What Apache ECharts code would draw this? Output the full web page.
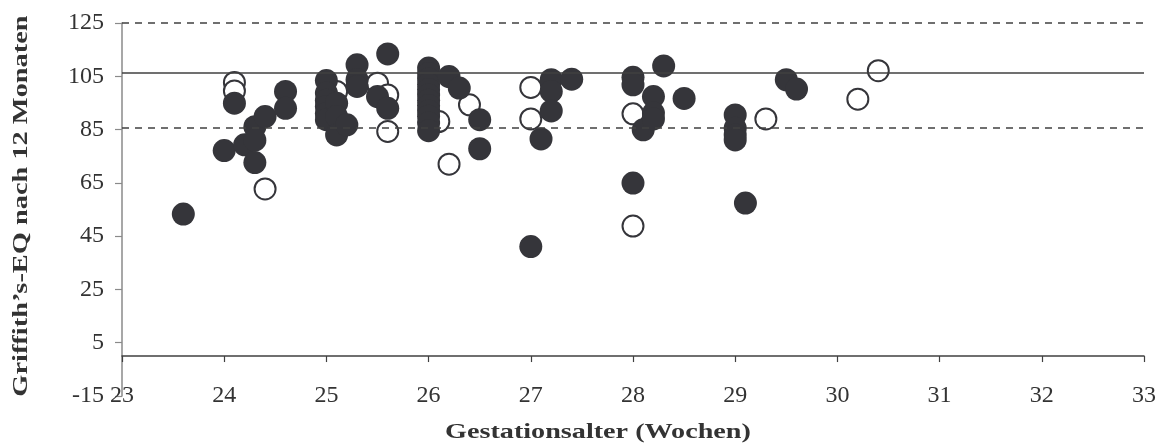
<!DOCTYPE html>
<html>
<head>
<meta charset="utf-8">
<script src="https://cdn.jsdelivr.net/npm/echarts@6/dist/echarts.min.js"></script>
<style>
html,body{margin:0;padding:0;background:#fff;}
#chart{width:1162px;height:445px;}
</style>
</head>
<body>
<div id="chart"></div>
<script>
// Filled circles: [Gestationsalter (Wochen), Griffith's-EQ]
const filledPoints = [
  [23.6, 53.3],
  [24.0, 77.1],
  [24.1, 94.9],
  [24.2, 79.3],
  [24.3, 86.1], [24.3, 81.0], [24.3, 72.6],
  [24.4, 89.9],
  [24.6, 99.3], [24.6, 93.0],
  [25.0, 103.4], [25.0, 98.7], [25.0, 96.0], [25.0, 93.7], [25.0, 91.0], [25.0, 88.7],
  [25.1, 94.9], [25.1, 89.9], [25.1, 83.0],
  [25.2, 86.8],
  [25.3, 109.3], [25.3, 103.7], [25.3, 101.2],
  [25.5, 97.4],
  [25.6, 113.4], [25.6, 93.0],
  [26.0, 108.1], [26.0, 106.0], [26.0, 104.0], [26.0, 102.0], [26.0, 100.0], [26.0, 98.0],
  [26.0, 96.0], [26.0, 94.0], [26.0, 92.0], [26.0, 90.0], [26.0, 87.5], [26.0, 84.6],
  [26.2, 104.9],
  [26.3, 100.6],
  [26.5, 88.7], [26.5, 77.8],
  [27.0, 41.1],
  [27.1, 81.5],
  [27.2, 103.7], [27.2, 99.3], [27.2, 92.0],
  [27.4, 103.9],
  [28.0, 104.6], [28.0, 101.8], [28.0, 64.9],
  [28.1, 84.9],
  [28.2, 97.4], [28.2, 91.2], [28.2, 89.0],
  [28.3, 108.9],
  [28.5, 96.7],
  [29.0, 90.5], [29.0, 85.5], [29.0, 83.0], [29.0, 81.1],
  [29.1, 57.4],
  [29.5, 103.7],
  [29.6, 100.2]
];
// Hollow circles
const hollowPoints = [
  [24.1, 102.7], [24.1, 99.5],
  [24.4, 62.7],
  [25.1, 99.3],
  [25.5, 102.4],
  [25.6, 98.0], [25.6, 84.3],
  [26.1, 88.0],
  [26.2, 72.0],
  [26.4, 94.3],
  [27.0, 100.8], [27.0, 89.0],
  [28.0, 90.9], [28.0, 48.8],
  [29.3, 89.0],
  [30.2, 96.4],
  [30.4, 107.1]
];
// Reference lines (mean solid, ±SD dashed)
const meanLine = [106.2];
const sdLines = [85.8, 125];
const xTicks = [23, 24, 25, 26, 27, 28, 29, 30, 31, 32, 33];
const yTicks = [-15, 5, 25, 45, 65, 85, 105, 125];
const xTitle = 'Gestationsalter (Wochen)';
const yTitle = 'Griffith\u2019s-EQ nach 12 Monaten';

const FONT = '"Liberation Serif", "Times New Roman", serif';
const DARK = '#35353a';

const chart = echarts.init(document.getElementById('chart'), null, {renderer: 'canvas'});
chart.setOption({
  animation: false,
  backgroundColor: '#ffffff',
  grid: {left: 122, right: 18, top: 23, bottom: 49, containLabel: false, outerBoundsMode: 'none'},
  xAxis: {
    type: 'value',
    min: xTicks[0], max: xTicks[xTicks.length - 1], interval: 1,
    axisLine: {onZero: true, lineStyle: {color: '#404040', width: 1.5}},
    axisTick: {show: true, length: 6, inside: false, lineStyle: {color: '#404040', width: 1.2}},
    axisLabel: {margin: -12, fontFamily: FONT, fontSize: 24, color: '#333'},
    splitLine: {show: false}
  },
  yAxis: {
    type: 'value',
    min: yTicks[0], max: yTicks[yTicks.length - 1], interval: 20,
    axisLine: {onZero: false, lineStyle: {color: '#8a8a8a', width: 1.5}},
    axisTick: {show: true, length: 7, inside: false, lineStyle: {color: '#8a8a8a', width: 1.2}},
    axisLabel: {margin: 18, fontFamily: FONT, fontSize: 24, color: '#333'},
    splitLine: {show: false}
  },
  graphic: [
    {
      type: 'text', x: 598, y: 432, scaleX: 1.28,
      style: {text: xTitle, font: 'bold 22px ' + FONT, fill: '#333', textAlign: 'center', textVerticalAlign: 'middle'}
    },
    {
      type: 'text', x: 21, y: 206, rotation: Math.PI / 2, scaleX: 1.29,
      style: {text: yTitle, font: 'bold 22px ' + FONT, fill: '#333', textAlign: 'center', textVerticalAlign: 'middle'}
    }
  ],
  series: [
    {
      type: 'scatter',
      name: 'reference',
      data: [],
      silent: true,
      markLine: {
        silent: true,
        symbol: 'none',
        label: {show: false},
        data: [
          {yAxis: meanLine[0], lineStyle: {type: 'solid', color: '#404040', width: 1.6}},
          {yAxis: sdLines[0], lineStyle: {type: [7, 6], color: '#404040', width: 1.6}},
          {yAxis: sdLines[1], lineStyle: {type: [7, 6], color: '#404040', width: 1.6}}
        ]
      }
    },
    {
      type: 'scatter',
      name: 'hollow',
      data: hollowPoints,
      symbol: 'circle',
      symbolSize: 21,
      itemStyle: {color: '#ffffff', borderColor: DARK, borderWidth: 2, opacity: 1}
    },
    {
      type: 'scatter',
      name: 'filled',
      data: filledPoints,
      symbol: 'circle',
      symbolSize: 23,
      itemStyle: {color: DARK, opacity: 1}
    }
  ]
});
</script>
</body>
</html>
